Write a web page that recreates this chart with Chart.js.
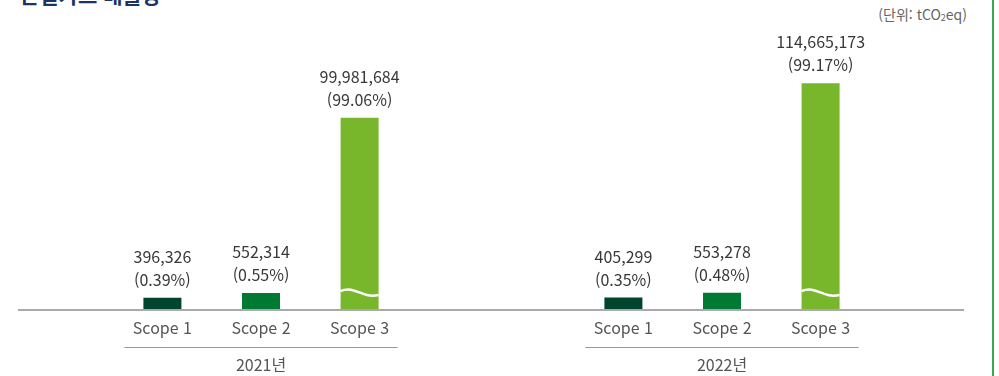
<!DOCTYPE html>
<html lang="ko">
<head>
<meta charset="utf-8">
<title>온실가스 배출량</title>
<script src="https://cdn.jsdelivr.net/npm/chart.js@4.4.1/dist/chart.umd.min.js"></script>
<style>
	html, body { margin: 0; padding: 0; background: #fff; }
	body {
		width: 999px; height: 376px; position: relative; overflow: hidden;
		font-family: "Noto Sans CJK KR", "Noto Sans", sans-serif;
	}
	.title {
		position: absolute; left: 20px; top: -19px; margin: 0;
		font-size: 21px; font-weight: bold; line-height: 26px;
		color: #1c3461; white-space: nowrap;
	}
	.unit {
		position: absolute; right: 32px; top: 5px;
		font-size: 14px; line-height: 18px; color: #666;
	}
	.unit sub { font-size: 9px; vertical-align: -1px; }
	.edge { position: absolute; left: 992px; top: 0; width: 2px; height: 376px; background: #3aa84f; }
	#wrap { position: absolute; left: 0; top: 0; width: 999px; height: 376px; }
</style>
</head>
<body>
<h2 class="title">온실가스 배출량</h2>
<div class="unit">(단위: tCO<sub>2</sub>eq)</div>
<div class="edge"></div>
<div id="wrap"><canvas id="js_chart_canvas"></canvas></div>

<script>
// Emissions per year, tCO2eq
const years = [ "2021년", "2022년" ];
const scopeNames = [ "Scope 1", "Scope 2", "Scope 3" ];
const scope1 = [ 396326, 405299 ];
const scope2 = [ 552314, 553278 ];
const scope3 = [ 99981684, 114665173 ];
// share of the yearly total, %
const scope1Share = [ 0.39, 0.35 ];
const scope2Share = [ 0.55, 0.48 ];
const scope3Share = [ 99.06, 99.17 ];

/*
 |
 | Linear scale with a cut: 0..lowMax uses the bottom part,
 | highMin..max the rest, values in between are skipped
 |
 */
class BrokenScale extends Chart.LinearScale {
	toDecimal ( value ) {
		let { lowMax, highMin, lowShare } = this.options.cut
		if ( value <= lowMax )
			return ( value - this.min ) / ( lowMax - this.min ) * lowShare
		let v = Math.max( value, highMin )
		return lowShare + ( v - highMin ) / ( this.max - highMin ) * ( 1 - lowShare )
	}
	getPixelForValue ( value ) {
		if ( value === null || value === undefined ) return NaN
		return this.getPixelForDecimal( this.toDecimal( value ) )
	}
	getValueForPixel ( pixel ) {
		let { lowMax, highMin, lowShare } = this.options.cut
		let d = this.getDecimalForPixel( pixel )
		if ( d <= lowShare )
			return this.min + d / lowShare * ( lowMax - this.min )
		return highMin + ( d - lowShare ) / ( 1 - lowShare ) * ( this.max - highMin )
	}
}
BrokenScale.id = "broken"
BrokenScale.defaults = Chart.LinearScale.defaults
Chart.register( BrokenScale )

const labelFont = "\"Noto Sans CJK KR\", \"Noto Sans\", sans-serif"
const shares = [ scope1Share, scope2Share, scope3Share ]

// Baseline, scope names under each bar and the line over each year
const axisDecor = {
	id: "axisDecor",
	afterDatasetsDraw ( chart ) {
		let ctx = chart.ctx
		let base = chart.scales.y.getBasePixel()
		ctx.save()
		ctx.fillStyle = "#aaaaaa"
		ctx.fillRect( 18, base - 1, 946, 2 )

		ctx.font = "16px " + labelFont
		ctx.fillStyle = "#555555"
		ctx.textAlign = "center"
		ctx.textBaseline = "middle"
		chart.data.datasets.forEach( function ( ds, i ) {
			chart.getDatasetMeta( i ).data.forEach( function ( bar ) {
				ctx.fillText( ds.label, bar.x, base + 18 )
			} )
		} )

		ctx.strokeStyle = "#999999"
		ctx.lineWidth = 1
		let first = chart.getDatasetMeta( 0 ).data
		let last = chart.getDatasetMeta( chart.data.datasets.length - 1 ).data
		first.forEach( function ( bar, j ) {
			let left = bar.x - bar.width
			let right = last[ j ].x + last[ j ].width
			ctx.beginPath()
			ctx.moveTo( left, base + 37.5 )
			ctx.lineTo( right, base + 37.5 )
			ctx.stroke()
		} )
		ctx.restore()
	}
}

// Value and share above every bar, wave mark on bars that cross the cut
const barLabels = {
	id: "barLabels",
	afterDatasetsDraw ( chart ) {
		let ctx = chart.ctx
		let cut = chart.scales.y.options.cut
		let base = chart.scales.y.getBasePixel()
		ctx.save()
		chart.data.datasets.forEach( function ( ds, i ) {
			chart.getDatasetMeta( i ).data.forEach( function ( bar, j ) {
				let value = ds.data[ j ]
				if ( value > cut.highMin ) {
					let x0 = bar.x - bar.width / 2
					let w = bar.width
					let y = base - 17
					ctx.strokeStyle = "#ffffff"
					ctx.lineWidth = 2.5
					ctx.beginPath()
					ctx.moveTo( x0, y - 2 )
					ctx.bezierCurveTo( x0 + w * 0.4, y - 8, x0 + w * 0.55, y + 6, x0 + w, y + 2 )
					ctx.stroke()
				}
				ctx.font = "16px " + labelFont
				ctx.fillStyle = "#383838"
				ctx.textAlign = "center"
				ctx.textBaseline = "middle"
				ctx.fillText( value.toLocaleString( "en-US" ), bar.x, bar.y - 41 )
				ctx.fillText( "(" + shares[ i ][ j ].toFixed( 2 ) + "%)", bar.x, bar.y - 18 )
			} )
		} )
		ctx.restore()
	}
}

let chartData = {
	labels: years,
	datasets: [
		{ label: scopeNames[ 0 ], data: scope1, backgroundColor: "#00432e" },
		{ label: scopeNames[ 1 ], data: scope2, backgroundColor: "#007a33" },
		{ label: scopeNames[ 2 ], data: scope3, backgroundColor: "#78b62b" }
	]
}

let chartScales = {
	x: {
		grid: { display: false, drawTicks: false },
		border: { display: false },
		ticks: {
			padding: 45,
			color: "#555555",
			font: { size: 16, family: labelFont }
		},
		// keep the axis band fixed so the plot ends right at the baseline
		afterFit ( scale ) {
			scale.height = 64
		}
	},
	y: {
		type: "broken",
		display: false,
		min: 0,
		max: 146000000,
		cut: { lowMax: 1000000, highMin: 31000000, lowShare: 31 / 300 }
	}
}

let chart = new Chart( document.getElementById( "js_chart_canvas" ), {
	type: "bar",
	data: chartData,
	options: {
		responsive: true,
		maintainAspectRatio: false,
		animation: false,
		events: [],
		layout: { padding: { top: 10, left: 30.5, right: 46.5, bottom: 2 } },
		datasets: { bar: { barPercentage: 0.3854, categoryPercentage: 0.6416 } },
		scales: chartScales,
		plugins: {
			legend: { display: false },
			tooltip: { enabled: false }
		}
	},
	plugins: [ axisDecor, barLabels ]
} )
</script>
</body>
</html>
